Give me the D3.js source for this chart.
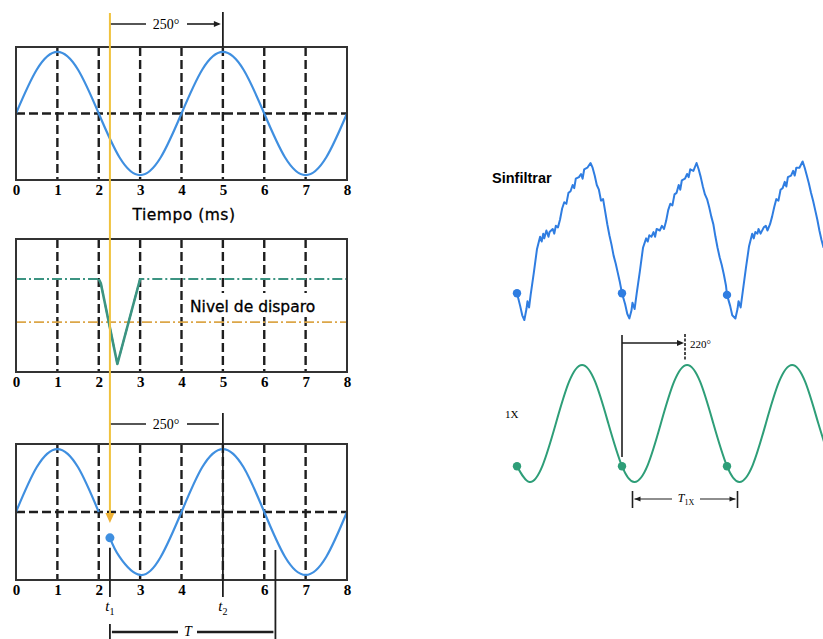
<!DOCTYPE html>
<html>
<head>
<meta charset="utf-8">
<script src="https://cdn.jsdelivr.net/npm/d3@7/dist/d3.min.js"></script>
<style>
  body { margin: 0; background: #fff; }
  svg  { display: block; }
</style>
</head>
<body>
<svg id="chart" width="823" height="639"></svg>
<script>
/******************************************************************************/
/*  Data                                                                      */
/******************************************************************************/

// Left: time axis (ms)
var timeTicks   = [0, 1, 2, 3, 4, 5, 6, 7, 8];
var bottomTicks = [0, 1, 2, 3, 4, 6, 7, 8];
var gridTimes   = [1, 2, 3, 4, 5, 6, 7];

// 1X signal read every 0.5 ms
var sineT = [0, 0.5, 1, 1.5, 2, 2.5, 3, 3.5, 4, 4.5, 5, 5.5, 6, 6.5, 7, 7.5, 8];
var sineV = [0, 0.71, 1, 0.71, 0, -0.71, -1, -0.71, 0, 0.71, 1, 0.71, 0, -0.71, -1, -0.71, 0];

// Trigger pulse (middle panel)
var triggerT     = [0, 2, 2.05, 2.45, 3, 8];
var triggerV     = [0.43, 0.43, 0.36, -0.95, 0.43, 0.43];
var triggerLevel = -0.27;

// Trigger point, second peak, end of period
var t1 = 2.27, t1Value = -0.41, t2 = 5, tEnd = 6.27;

// Right: unfiltered signal, one array per cycle [cycle, amplitude %]
var rawCycle1 = [[0.00,17],[0.03,9],[0.05,3],[0.07,0],[0.09,7],[0.10,12],[0.115,8],[0.13,16],[0.16,30],[0.19,45],
  [0.22,53],[0.235,50],[0.25,55],[0.26,52],[0.28,57],[0.30,53],[0.31,56],[0.34,58],[0.355,55],[0.37,60],
  [0.39,59],[0.41,64],[0.43,71],[0.45,75],[0.47,74],[0.49,81],[0.51,82],[0.53,86],[0.545,84],[0.56,90],
  [0.59,91],[0.61,93],[0.625,90],[0.64,96],[0.67,97],[0.70,100],[0.72,97],[0.74,92],[0.76,86],[0.78,83],
  [0.80,76],[0.82,77],[0.84,69],[0.86,61],[0.88,54],[0.90,48],[0.92,41],[0.94,36],[0.96,30],[0.98,24]];
var rawCycle2 = [[1.00,17],[1.03,10],[1.05,4],[1.07,1],[1.09,6],[1.10,11],[1.12,7],[1.14,17],[1.17,31],[1.20,46],
  [1.23,52],[1.245,50],[1.26,54],[1.28,53],[1.30,56],[1.315,53],[1.33,58],[1.36,57],[1.38,60],[1.40,58],
  [1.42,63],[1.44,70],[1.46,74],[1.48,73],[1.50,80],[1.52,81],[1.54,86],[1.555,83],[1.57,89],[1.60,90],
  [1.62,93],[1.635,91],[1.65,96],[1.68,95],[1.71,100],[1.73,96],[1.75,91],[1.77,85],[1.79,80],[1.81,77],
  [1.83,72],[1.85,66],[1.87,61],[1.89,53],[1.91,46],[1.93,40],[1.95,35],[1.97,29],[1.99,22]];
var rawCycle3 = [[2.00,16],[2.03,9],[2.05,3],[2.08,1],[2.10,7],[2.11,12],[2.13,8],[2.15,18],[2.18,33],[2.21,47],
  [2.24,55],[2.255,52],[2.27,56],[2.29,55],[2.30,58],[2.32,55],[2.35,59],[2.37,60],[2.385,57],[2.41,61],
  [2.43,66],[2.45,72],[2.47,77],[2.49,76],[2.51,83],[2.53,84],[2.55,88],[2.565,85],[2.58,91],[2.61,92],
  [2.63,95],[2.645,92],[2.66,97],[2.69,97],[2.72,101],[2.74,97],[2.76,92],[2.78,87],[2.80,81],[2.82,76],
  [2.84,70],[2.86,64],[2.88,57],[2.90,51],[2.92,46]];
var rawDots = [[0,17],[1,17],[2,16]];

// Right: filtered 1X signal [cycle, amplitude]
var filtT = [0, 0.12, 0.245, 0.37, 0.495, 0.62, 0.745, 0.87, 1.0, 1.12, 1.245, 1.37, 1.495, 1.62, 1.745, 1.87,
             2.0, 2.12, 2.245, 2.37, 2.495, 2.62, 2.745, 2.87, 2.995];
var filtV = [-0.73, -1, -0.71, 0, 0.71, 1, 0.71, 0, -0.73, -1, -0.71, 0, 0.71, 1, 0.71, 0,
             -0.73, -1, -0.71, 0, 0.71, 1, 0.71, 0, -0.71];
var filtDots = [0, 1, 2];

/******************************************************************************/
/*  Setup                                                                     */
/******************************************************************************/

var svg = d3.select('#chart');
svg.append('rect').attr('width', 823).attr('height', 639).attr('fill', '#fff');

var BLUE = '#3f8fe0', RAW = '#2f7de1', GREEN = '#2e9e78', TEAL = '#3c9482',
    ORANGE = '#dca648', YELLOW = '#f0c23e', INK = '#1e1e1e';

var x = d3.scaleLinear().domain([0, 8]).range([16, 347]);

var panels = [
  {top: 47,  bottom: 180, ticks: timeTicks,   midline: true},
  {top: 239, bottom: 372, ticks: timeTicks,   midline: false},
  {top: 444, bottom: 580, ticks: bottomTicks, midline: true}
];

var sinePts = sineT.map(function(t, i){ return [t, sineV[i]]; });

/******************************************************************************/
/*  Left panels                                                               */
/******************************************************************************/

panels.forEach(function(p){
  p.y = d3.scaleLinear().domain([-1.08, 1.08]).range([p.bottom, p.top]);
  p.g = svg.append('g');

  // Dashed grid
  p.g.selectAll('line.vgrid').data(gridTimes)
    .enter().append('line')
      .attr('x1', function(d){ return x(d); })
      .attr('x2', function(d){ return x(d); })
      .attr('y1', p.top)
      .attr('y2', p.bottom)
      .attr('stroke', INK)
      .attr('stroke-width', 2.4)
      .attr('stroke-dasharray', '9,4');

  if (p.midline) {
    p.g.append('line')
      .attr('x1', x(0)).attr('x2', x(8))
      .attr('y1', p.y(0)).attr('y2', p.y(0))
      .attr('stroke', INK)
      .attr('stroke-width', 2.4)
      .attr('stroke-dasharray', '9,4');
  }

  // Tick labels
  var axis = d3.axisBottom(x).tickValues(p.ticks).tickSize(0).tickPadding(4).tickFormat(d3.format('d'));
  var ag = p.g.append('g')
      .attr('transform', 'translate(0,' + p.bottom + ')')
      .call(axis)
      .attr('font-family', '"Liberation Serif", serif')
      .attr('font-size', 15)
      .attr('font-weight', 'bold');
  ag.select('.domain').remove();
});

var topP = panels[0], midP = panels[1], botP = panels[2];

function sineLine(p){
  return d3.line()
    .x(function(d){ return x(d[0]); })
    .y(function(d){ return p.y(d[1]); })
    .curve(d3.curveNatural);
}

// Top waveform
topP.g.append('path')
  .attr('d', sineLine(topP)(sinePts))
  .attr('fill', 'none').attr('stroke', BLUE).attr('stroke-width', 2.2);

topP.g.append('text')
  .attr('x', 184).attr('y', 220)
  .attr('text-anchor', 'middle')
  .attr('font-family', '"DejaVu Sans", sans-serif')
  .attr('font-size', 15.5)
  .attr('letter-spacing', 0.5)
  .attr('stroke', '#000').attr('stroke-width', 0.3)
  .text('Tiempo (ms)');

// Middle: trigger level and pulse
midP.g.append('line')
  .attr('x1', x(0)).attr('x2', x(8))
  .attr('y1', midP.y(triggerLevel)).attr('y2', midP.y(triggerLevel))
  .attr('stroke', ORANGE).attr('stroke-width', 1.6)
  .attr('stroke-dasharray', '10,3,2,3');

var trigPts = triggerT.map(function(t, i){ return [t, triggerV[i]]; });
var trigLine = d3.line()
  .x(function(d){ return x(d[0]); })
  .y(function(d){ return midP.y(d[1]); });

midP.g.append('path')
  .attr('d', trigLine(trigPts))
  .attr('fill', 'none').attr('stroke', TEAL).attr('stroke-width', 1.8)
  .attr('stroke-dasharray', '10,3,2,3');
midP.g.append('path')
  .attr('d', trigLine(trigPts.slice(1, 5)))
  .attr('fill', 'none').attr('stroke', TEAL).attr('stroke-width', 2.6)
  .attr('stroke-linejoin', 'round');

midP.g.append('rect')
  .attr('x', 186).attr('y', 293).attr('width', 153).attr('height', 24)
  .attr('fill', '#fff');
midP.g.append('text')
  .attr('x', 190).attr('y', 312)
  .attr('font-family', '"DejaVu Sans", sans-serif')
  .attr('font-size', 15.5)
  .attr('stroke', '#000').attr('stroke-width', 0.3)
  .text('Nivel de disparo');

// Bottom: waveform restarted at the trigger point
var seg1 = sinePts.filter(function(d){ return d[0] <= 2; });
var seg2 = [[t1, t1Value]].concat(sinePts.filter(function(d){ return d[0] >= 2.5; }));
[seg1, seg2].forEach(function(s){
  botP.g.append('path')
    .attr('d', sineLine(botP)(s))
    .attr('fill', 'none').attr('stroke', BLUE).attr('stroke-width', 2.2);
});
botP.g.append('circle')
  .attr('cx', x(t1)).attr('cy', botP.y(t1Value)).attr('r', 4.5)
  .attr('fill', BLUE);

// Panel frames
panels.forEach(function(p){
  p.g.append('rect')
    .attr('x', x(0)).attr('y', p.top)
    .attr('width', x(8) - x(0)).attr('height', p.bottom - p.top)
    .attr('fill', 'none').attr('stroke', '#333').attr('stroke-width', 2);
});

/******************************************************************************/
/*  Left annotations                                                          */
/******************************************************************************/

function solid(x1, y1, x2, y2, w){
  return svg.append('line')
    .attr('x1', x1).attr('y1', y1).attr('x2', x2).attr('y2', y2)
    .attr('stroke', INK).attr('stroke-width', w || 1.6);
}

function phaseMark(yLine, yTop, yBottom, arrow){
  solid(x(t1), yLine, 146, yLine, 1.6);
  solid(187, yLine, x(t2) - 4, yLine, 1.6);
  if (arrow) {
    svg.append('path')
      .attr('d', 'M' + (x(t2) - 9) + ',' + (yLine - 3) + 'L' + (x(t2) - 2) + ',' + yLine +
                 'L' + (x(t2) - 9) + ',' + (yLine + 3) + 'Z')
      .attr('fill', INK);
  }
  solid(x(t2), yTop, x(t2), yBottom, 1.8);
  svg.append('text')
    .attr('x', 166).attr('y', yLine + 5)
    .attr('text-anchor', 'middle')
    .attr('font-family', '"Liberation Serif", serif')
    .attr('font-size', 14)
    .text('250°');
}

phaseMark(24, 12, topP.top, true);
phaseMark(424, 413, 597, false);

// Yellow trigger line with arrow
svg.append('line')
  .attr('x1', x(t1)).attr('x2', x(t1))
  .attr('y1', 13).attr('y2', botP.y(0) + 3)
  .attr('stroke', YELLOW).attr('stroke-width', 2);
svg.append('path')
  .attr('d', 'M' + (x(t1) - 4.5) + ',' + (botP.y(0) + 1) + 'L' + (x(t1) + 4.5) + ',' + (botP.y(0) + 1) +
             'L' + x(t1) + ',' + (botP.y(0) + 11) + 'Z')
  .attr('fill', '#eeb236');

// t1, t2 and period T
solid(x(t1), botP.y(t1Value) + 10, x(t1), 597, 1.8);
solid(x(tEnd), 550, x(tEnd), 639, 1.8);
solid(x(t1), 624, x(t1), 639, 1.8);
solid(x(t1) + 2, 632, 178, 632, 2.4);
solid(197, 632, x(tEnd) - 2, 632, 2.4);

[[t1, '1'], [t2, '2']].forEach(function(d){
  var tx = svg.append('text')
    .attr('x', x(d[0])).attr('y', 611)
    .attr('text-anchor', 'middle')
    .attr('font-family', '"Liberation Serif", serif')
    .attr('font-style', 'italic')
    .attr('font-size', 15);
  tx.append('tspan').text('t');
  tx.append('tspan').attr('dy', 4).attr('font-size', 10).attr('font-style', 'normal').text(d[1]);
});
svg.append('text')
  .attr('x', 188).attr('y', 636)
  .attr('text-anchor', 'middle')
  .attr('font-family', '"Liberation Serif", serif')
  .attr('font-style', 'italic')
  .attr('font-size', 14)
  .text('T');

/******************************************************************************/
/*  Right: unfiltered and 1X signals                                          */
/******************************************************************************/

var rx     = d3.scaleLinear().domain([0, 1]).range([517, 622]);
var ryRaw  = d3.scaleLinear().domain([0, 100]).range([320, 163]);
var ryFilt = d3.scaleLinear().domain([-1, 1]).range([482, 365]);

var rawPts = rawCycle1.concat(rawCycle2, rawCycle3);
svg.append('path')
  .attr('d', d3.line()
      .x(function(d){ return rx(d[0]); })
      .y(function(d){ return ryRaw(d[1]); })(rawPts))
  .attr('fill', 'none').attr('stroke', RAW).attr('stroke-width', 2)
  .attr('stroke-linejoin', 'round');

svg.selectAll('circle.raw').data(rawDots)
  .enter().append('circle')
    .attr('cx', function(d){ return rx(d[0]); })
    .attr('cy', function(d){ return ryRaw(d[1]); })
    .attr('r', 4.2)
    .attr('fill', RAW);

svg.append('text')
  .attr('x', 492).attr('y', 183)
  .attr('font-family', '"Liberation Sans", sans-serif')
  .attr('font-weight', 'bold')
  .attr('font-size', 14.5)
  .text('Sinfiltrar');

var filtPts = filtT.map(function(t, i){ return [t, filtV[i]]; });
svg.append('path')
  .attr('d', d3.line()
      .x(function(d){ return rx(d[0]); })
      .y(function(d){ return ryFilt(d[1]); })
      .curve(d3.curveNatural)(filtPts))
  .attr('fill', 'none').attr('stroke', GREEN).attr('stroke-width', 2);

svg.selectAll('circle.filt').data(filtDots)
  .enter().append('circle')
    .attr('cx', function(d){ return rx(d); })
    .attr('cy', ryFilt(-0.73))
    .attr('r', 4.2)
    .attr('fill', GREEN);

svg.append('text')
  .attr('x', 505).attr('y', 418)
  .attr('font-family', '"Liberation Serif", serif')
  .attr('font-size', 11)
  .text('1X');

// 220° phase mark
solid(rx(1), 335, rx(1), 457, 1.6);
solid(rx(1), 343, rx(1.6) - 5, 343, 1.4);
svg.append('path')
  .attr('d', 'M' + (rx(1.6) - 8) + ',340L' + (rx(1.6) - 1) + ',343L' + (rx(1.6) - 8) + ',346Z')
  .attr('fill', INK);
svg.append('line')
  .attr('x1', rx(1.6)).attr('x2', rx(1.6))
  .attr('y1', 334).attr('y2', 360)
  .attr('stroke', INK).attr('stroke-width', 1.6)
  .attr('stroke-dasharray', '3,1.5');
svg.append('text')
  .attr('x', rx(1.6) + 5).attr('y', 348)
  .attr('font-family', '"Liberation Serif", serif')
  .attr('font-size', 11)
  .text('220°');

// Period T1X
var p0 = rx(1.1), p1 = rx(2.1), py = 499;
solid(p0, 491, p0, 508, 1.6);
solid(p1, 491, p1, 508, 1.6);
solid(p0 + 2, py, 672, py, 1.1);
solid(700, py, p1 - 2, py, 1.1);
svg.append('path')
  .attr('d', 'M' + (p0 + 2) + ',' + py + 'L' + (p0 + 8) + ',' + (py - 2.5) + 'L' + (p0 + 8) + ',' + (py + 2.5) + 'Z')
  .attr('fill', INK);
svg.append('path')
  .attr('d', 'M' + (p1 - 2) + ',' + py + 'L' + (p1 - 8) + ',' + (py - 2.5) + 'L' + (p1 - 8) + ',' + (py + 2.5) + 'Z')
  .attr('fill', INK);
var tl = svg.append('text')
  .attr('x', 686).attr('y', 502)
  .attr('text-anchor', 'middle')
  .attr('font-family', '"Liberation Serif", serif')
  .attr('font-style', 'italic')
  .attr('font-size', 12);
tl.append('tspan').text('T');
tl.append('tspan').attr('dy', 3).attr('font-size', 8).attr('font-style', 'normal').text('1X');
</script>
</body>
</html>
